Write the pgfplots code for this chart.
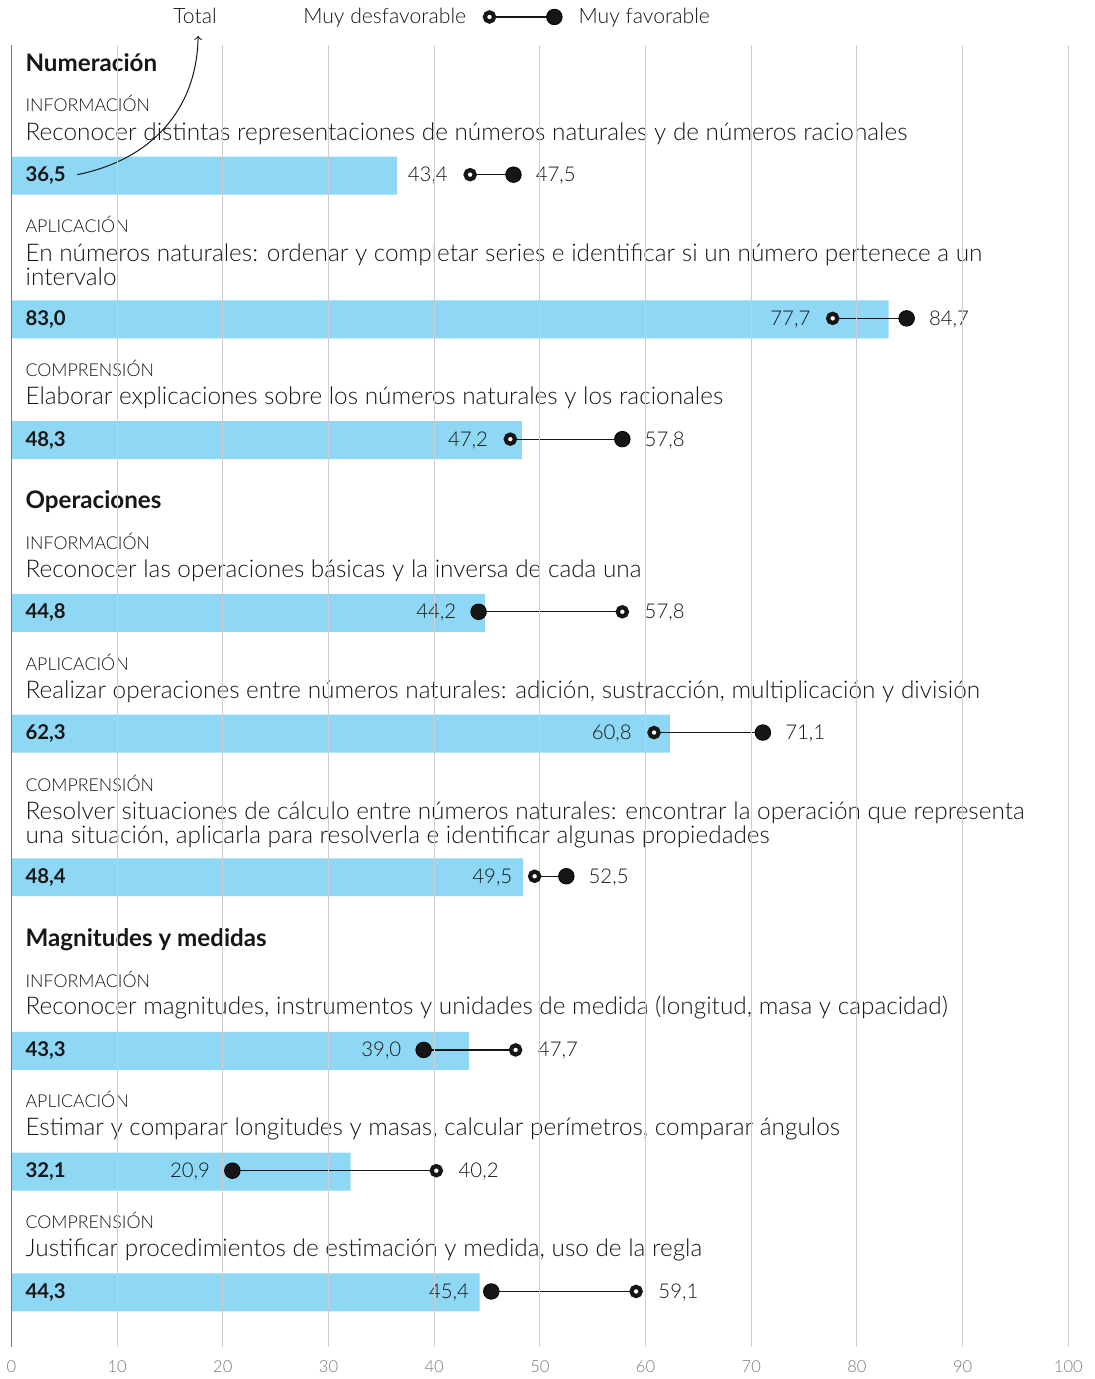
\documentclass[border=0pt]{standalone}
\usepackage{fontspec}
\setmainfont{Lato}[UprightFont={* Light}, BoldFont={* Bold}]
\usepackage{pgfplots}
\pgfplotsset{compat=1.18}

\definecolor{barblue}{RGB}{142,216,245}
\definecolor{txt}{RGB}{22,22,22}
\definecolor{gridc}{RGB}{205,205,205}
\definecolor{tickc}{RGB}{120,120,120}

\newcommand{\fdesc}{\fontsize{12.2}{14}\selectfont}
\newcommand{\fleg}{\fontsize{10.6}{12}\selectfont}
\newcommand{\fcat}{\fontsize{8.9}{10}\selectfont}
\newcommand{\fhead}{\fontsize{12.1}{14}\selectfont\bfseries}
\newcommand{\fval}{\fontsize{10.2}{12}\selectfont}

% one pixel of the reference = 0.5pt; y axis is in pixels, top down
\begin{document}
\begin{tikzpicture}[
  t/.style={anchor=base west, inner sep=0pt, text=txt},
  vl/.style={anchor=base east, inner sep=0pt, text=txt, font=\fval, xshift=-11pt},
  vr/.style={anchor=base west, inner sep=0pt, text=txt, font=\fval, xshift=11pt}]
\begin{axis}[
  width=529.5pt, height=652.5pt, scale only axis,
  xmin=0, xmax=100, ymin=45, ymax=1350, y dir=reverse,
  clip=false, axis on top,
  axis line style={draw=none},
  xtick={10,20,...,100}, ytick=\empty,
  xmajorgrids, grid style={gridc, line width=0.5pt},
  extra x ticks={0}, extra x tick style={grid style={tickc, line width=0.9pt}},
  major tick length=0pt,
  xticklabel style={font=\fontsize{8.3}{10}\selectfont, text=tickc, yshift=-3pt},
  /pgf/number format/assume math mode=true,
]
% page frame
\path (axis cs:-0.944,0) rectangle (axis cs:102.45,1379);

% total bars
\addplot[xbar, bar width=19pt, bar shift=0pt, fill=barblue, draw=none] coordinates {
  (36.5,176)(83.0,320)(48.3,441)(44.8,614)(62.3,735)(48.4,879)(43.3,1053)(32.1,1174)(44.3,1295)};

% dumbbell lines
\addplot[txt, line width=0.6pt] coordinates {(43.4,175)(47.5,175)};
\addplot[txt, line width=0.6pt] coordinates {(77.7,319)(84.7,319)};
\addplot[txt, line width=0.6pt] coordinates {(47.2,440)(57.8,440)};
\addplot[txt, line width=0.6pt] coordinates {(44.2,613)(57.8,613)};
\addplot[txt, line width=0.6pt] coordinates {(60.8,734)(71.1,734)};
\addplot[txt, line width=0.6pt] coordinates {(49.5,878)(52.5,878)};
\addplot[txt, line width=0.6pt] coordinates {(39.0,1052)(47.7,1052)};
\addplot[txt, line width=0.6pt] coordinates {(20.9,1173)(40.2,1173)};
\addplot[txt, line width=0.6pt] coordinates {(45.4,1294)(59.1,1294)};
\addplot[txt, line width=0.6pt] coordinates {(45.23,17)(51.37,17)};

% muy desfavorable
\addplot[only marks, mark=*, mark size=2.3pt, mark options={fill=white, draw=txt, line width=2.1pt}] coordinates {
  (43.4,175)(77.7,319)(47.2,440)(57.8,613)(60.8,734)(49.5,878)(47.7,1052)(40.2,1173)(59.1,1294)(45.23,17)};
% muy favorable
\addplot[only marks, mark=*, mark size=3.9pt, mark options={fill=txt, draw=none}] coordinates {
  (47.5,175)(84.7,319)(57.8,440)(44.2,613)(71.1,734)(52.5,878)(39.0,1052)(20.9,1173)(45.4,1294)(51.37,17)};

% legend
\node[anchor=base, inner sep=0pt, text=txt, font=\fleg] at (axis cs:17.37,24) {Total};
\node[anchor=base east, inner sep=0pt, text=txt, font=\fleg] at (axis cs:43.06,24) {Muy desfavorable};
\node[t, font=\fleg] at (axis cs:53.63,24) {Muy favorable};
\draw[->, txt, line width=0.5pt] (axis cs:6.23,175) .. controls (axis cs:13.22,160) and (axis cs:17.56,110) .. (axis cs:17.66,36);

% headings
\node[t, font=\fhead] at (axis cs:1.3,72) {Numeración};
\node[t, font=\fhead] at (axis cs:1.3,510) {Operaciones};
\node[t, font=\fhead] at (axis cs:1.3,948) {Magnitudes y medidas};

% categories
\node[t, font=\fcat] at (axis cs:1.3,112) {INFORMACIÓN};
\node[t, font=\fcat] at (axis cs:1.3,233) {APLICACIÓN};
\node[t, font=\fcat] at (axis cs:1.3,377) {COMPRENSIÓN};
\node[t, font=\fcat] at (axis cs:1.3,551) {INFORMACIÓN};
\node[t, font=\fcat] at (axis cs:1.3,672) {APLICACIÓN};
\node[t, font=\fcat] at (axis cs:1.3,793) {COMPRENSIÓN};
\node[t, font=\fcat] at (axis cs:1.3,989) {INFORMACIÓN};
\node[t, font=\fcat] at (axis cs:1.3,1110) {APLICACIÓN};
\node[t, font=\fcat] at (axis cs:1.3,1231) {COMPRENSIÓN};

% descriptions
\node[t, font=\fdesc] at (axis cs:1.3,141) {Reconocer distintas representaciones de números naturales y de números racionales};
\node[t, font=\fdesc] at (axis cs:1.3,262) {En números naturales: ordenar y completar series e identificar si un número pertenece a un};
\node[t, font=\fdesc] at (axis cs:1.3,286) {intervalo};
\node[t, font=\fdesc] at (axis cs:1.3,405) {Elaborar explicaciones sobre los números naturales y los racionales};
\node[t, font=\fdesc] at (axis cs:1.3,579) {Reconocer las operaciones básicas y la inversa de cada una};
\node[t, font=\fdesc] at (axis cs:1.3,700) {Realizar operaciones entre números naturales: adición, sustracción, multiplicación y división};
\node[t, font=\fdesc] at (axis cs:1.3,821) {Resolver situaciones de cálculo entre números naturales: encontrar la operación que representa};
\node[t, font=\fdesc] at (axis cs:1.3,845) {una situación, aplicarla para resolverla e identificar algunas propiedades};
\node[t, font=\fdesc] at (axis cs:1.3,1017) {Reconocer magnitudes, instrumentos y unidades de medida (longitud, masa y capacidad)};
\node[t, font=\fdesc] at (axis cs:1.3,1138) {Estimar y comparar longitudes y masas, calcular perímetros, comparar ángulos};
\node[t, font=\fdesc] at (axis cs:1.3,1259) {Justificar procedimientos de estimación y medida, uso de la regla};

% totals inside bars
\node[t, font=\fval\bfseries] at (axis cs:1.3,182) {36,5};
\node[t, font=\fval\bfseries] at (axis cs:1.3,326) {83,0};
\node[t, font=\fval\bfseries] at (axis cs:1.3,447) {48,3};
\node[t, font=\fval\bfseries] at (axis cs:1.3,620) {44,8};
\node[t, font=\fval\bfseries] at (axis cs:1.3,741) {62,3};
\node[t, font=\fval\bfseries] at (axis cs:1.3,885) {48,4};
\node[t, font=\fval\bfseries] at (axis cs:1.3,1059) {43,3};
\node[t, font=\fval\bfseries] at (axis cs:1.3,1180) {32,1};
\node[t, font=\fval\bfseries] at (axis cs:1.3,1301) {44,3};

% dumbbell values
\node[vl] at (axis cs:43.4,182) {43,4};  \node[vr] at (axis cs:47.5,182) {47,5};
\node[vl] at (axis cs:77.7,326) {77,7};  \node[vr] at (axis cs:84.7,326) {84,7};
\node[vl] at (axis cs:47.2,447) {47,2};  \node[vr] at (axis cs:57.8,447) {57,8};
\node[vl] at (axis cs:44.2,620) {44,2};  \node[vr] at (axis cs:57.8,620) {57,8};
\node[vl] at (axis cs:60.8,741) {60,8};  \node[vr] at (axis cs:71.1,741) {71,1};
\node[vl] at (axis cs:49.5,885) {49,5};  \node[vr] at (axis cs:52.5,885) {52,5};
\node[vl] at (axis cs:39.0,1059) {39,0}; \node[vr] at (axis cs:47.7,1059) {47,7};
\node[vl] at (axis cs:20.9,1180) {20,9}; \node[vr] at (axis cs:40.2,1180) {40,2};
\node[vl] at (axis cs:45.4,1301) {45,4}; \node[vr] at (axis cs:59.1,1301) {59,1};
\end{axis}
\end{tikzpicture}
\end{document}
